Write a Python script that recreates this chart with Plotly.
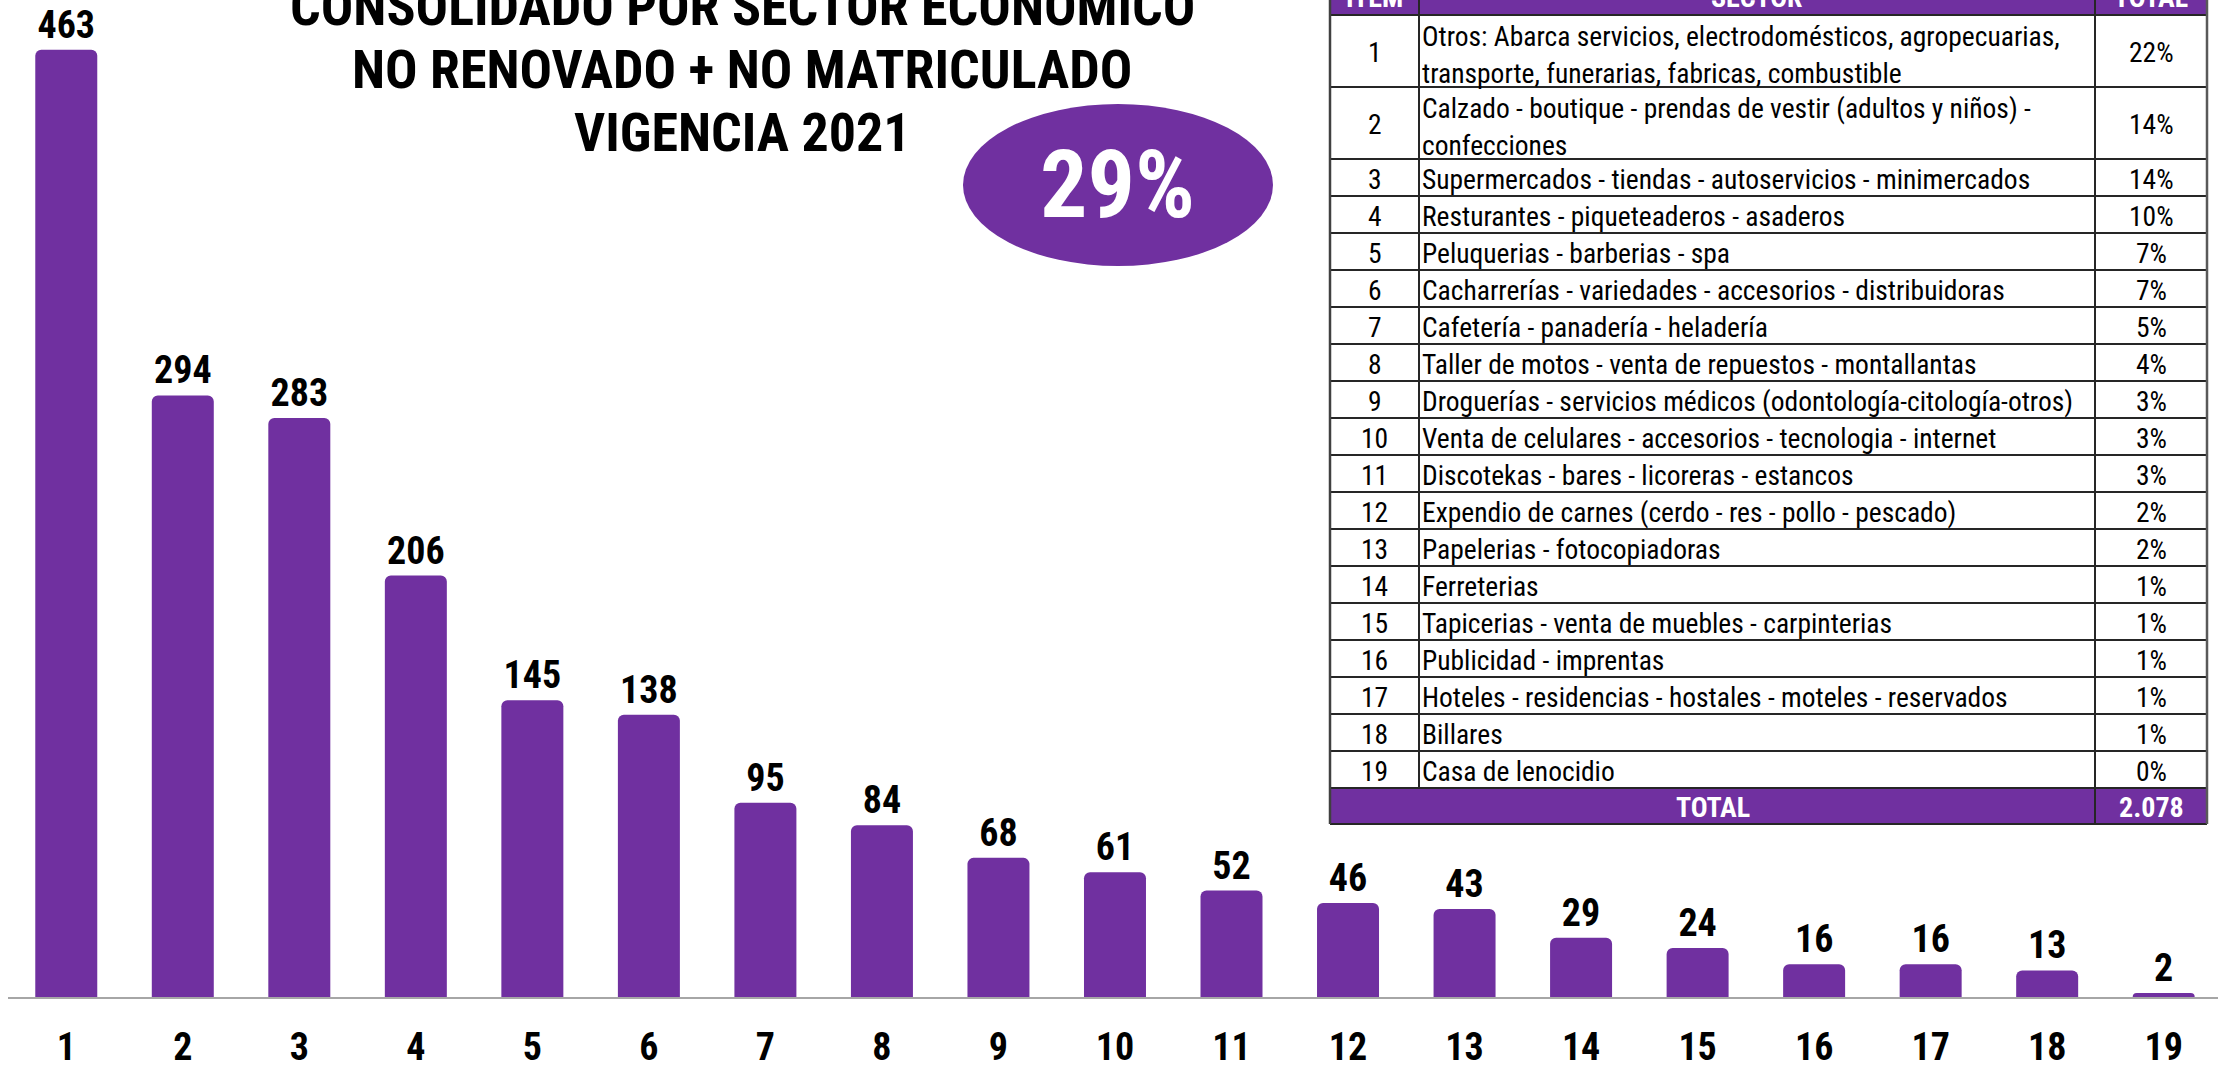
import plotly.graph_objects as go

# ---------------- data ----------------
items = [str(i) for i in range(1, 20)]
values = [463, 294, 283, 206, 145, 138, 95, 84, 68, 61, 52, 46, 43, 29, 24, 16, 16, 13, 2]
sectors = [
    "Otros: Abarca servicios, electrodomésticos, agropecuarias,<br>transporte, funerarias, fabricas, combustible",
    "Calzado - boutique - prendas de vestir (adultos y niños) -<br>confecciones",
    "Supermercados - tiendas - autoservicios - minimercados",
    "Resturantes - piqueteaderos - asaderos",
    "Peluquerias - barberias - spa",
    "Cacharrerías - variedades - accesorios - distribuidoras",
    "Cafetería - panadería - heladería",
    "Taller de motos - venta de repuestos - montallantas",
    "Droguerías - servicios médicos (odontología-citología-otros)",
    "Venta de celulares - accesorios - tecnologia - internet",
    "Discotekas - bares - licoreras - estancos",
    "Expendio de carnes (cerdo - res - pollo - pescado)",
    "Papelerias - fotocopiadoras",
    "Ferreterias",
    "Tapicerias - venta de muebles - carpinterias",
    "Publicidad - imprentas",
    "Hoteles - residencias - hostales - moteles - reservados",
    "Billares",
    "Casa de lenocidio",
]
shares = ["22%", "14%", "14%", "10%", "7%", "7%", "5%", "4%", "3%", "3%",
          "3%", "2%", "2%", "1%", "1%", "1%", "1%", "1%", "0%"]
table_headers = ["ITEM", "SECTOR", "TOTAL"]
total_label = "TOTAL"
total_value = "2.078"
title_lines = ["CONSOLIDADO POR SECTOR ECONOMICO", "NO RENOVADO + NO MATRICULADO", "VIGENCIA 2021"]
badge_text = "29%"

# ---------------- style ----------------
PURPLE = "#7030a0"
NARROW = "Liberation Sans Narrow, Arial Narrow, Roboto Condensed, Liberation Sans, Arial, sans-serif"
LINE = "#262626"

W, H = 2218, 1070
ML, MR, MT, MB = 8, 0, 0, 73
PW, PH = W - ML - MR, H - MT - MB


def px(x):
    return (x - ML) / PW


def py(y):
    return 1 - (y - MT) / PH


fig = go.Figure(
    go.Bar(
        x=items,
        y=values,
        marker=dict(color=PURPLE, line=dict(width=0)),
        text=[str(v) for v in values],
        textposition="outside",
        textfont=dict(family=NARROW, size=38, color="black", weight="bold"),
        constraintext="none",
        cliponaxis=False,
        hoverinfo="skip",
    )
)

fig.update_layout(
    template="none",
    width=W,
    height=H,
    margin=dict(l=ML, r=MR, t=MT, b=MB, pad=0, autoexpand=False),
    paper_bgcolor="white",
    plot_bgcolor="white",
    bargap=0.468,
    barcornerradius=6,
    showlegend=False,
    xaxis=dict(
        type="category",
        range=[-0.5, 18.466],
        automargin=False,
        showline=True,
        linecolor="#a6a6a6",
        linewidth=2,
        ticks="outside",
        ticklen=15,
        tickcolor="rgba(0,0,0,0)",
        tickfont=dict(family=NARROW, size=38, color="black", weight="bold"),
        showgrid=False,
        zeroline=False,
        fixedrange=True,
    ),
    yaxis=dict(range=[0, PH / 2.046], visible=False, automargin=False,
               showgrid=False, zeroline=False, fixedrange=True),
)

# ---------------- title ----------------
for i, line in enumerate(title_lines):
    fig.add_annotation(
        xref="paper", yref="paper", x=px(742), y=py(6 + 63 * i),
        text=line, showarrow=False, xanchor="center", yanchor="middle",
        font=dict(family=NARROW, size=54, color="black", weight="bold"),
    )

# ---------------- badge ----------------
fig.add_shape(type="circle", xref="paper", yref="paper",
              x0=px(963), x1=px(1273), y0=py(266), y1=py(104),
              fillcolor=PURPLE, line=dict(width=0), layer="above")
fig.add_annotation(xref="paper", yref="paper", x=px(1117), y=py(185), text=badge_text,
                   showarrow=False, xanchor="center", yanchor="middle",
                   font=dict(family=NARROW, size=94, color="white", weight="bold"))

# ---------------- table ----------------
X0, X1, X2, X3 = 1330, 1419, 2095, 2207
HEAD_TOP, HEAD_BOT = -40, 15
bounds = [HEAD_BOT]
for s in sectors:
    n = len(s.split("<br>"))
    bounds.append(bounds[-1] + (72 if n > 1 else 37))
TOT_TOP = bounds[-1]
TOT_BOT = TOT_TOP + 36


def rect(x0, y0, x1, y1, fill):
    fig.add_shape(type="rect", xref="paper", yref="paper",
                  x0=px(x0), x1=px(x1), y0=py(y1), y1=py(y0),
                  fillcolor=fill, line=dict(width=0), layer="above")


def seg(x0, y0, x1, y1, w=2, c=LINE):
    fig.add_shape(type="line", xref="paper", yref="paper",
                  x0=px(x0), x1=px(x1), y0=py(y0), y1=py(y1),
                  line=dict(color=c, width=w), layer="above")


rect(X0, HEAD_BOT, X3, TOT_TOP, "white")
rect(X0, HEAD_TOP, X3, HEAD_BOT, PURPLE)
rect(X0, TOT_TOP, X3, TOT_BOT, PURPLE)
for b in bounds + [TOT_BOT]:
    seg(X0, b, X3, b)
seg(X1, HEAD_TOP, X1, TOT_TOP)
seg(X2, HEAD_TOP, X2, TOT_BOT)
seg(X0, HEAD_TOP, X0, TOT_BOT, w=2.5, c="#404040")
seg(X3, HEAD_TOP, X3, TOT_BOT, w=2.5, c="#595959")

BODY = dict(family=NARROW, size=27.5, color="black")
HEAD = dict(family=NARROW, size=28, color="white", weight="bold")

for cx, t in zip([(X0 + X1) / 2, (X1 + X2) / 2, (X2 + X3) / 2], table_headers):
    fig.add_annotation(xref="paper", yref="paper", x=px(cx), y=py(-3), text=t,
                       showarrow=False, xanchor="center", yanchor="middle", font=HEAD)

for k in range(len(items)):
    top, bot = bounds[k], bounds[k + 1]
    cy = (top + bot) / 2
    fig.add_annotation(xref="paper", yref="paper", x=px((X0 + X1) / 2), y=py(cy + 2),
                       text=items[k], showarrow=False, xanchor="center", yanchor="middle", font=BODY)
    fig.add_annotation(xref="paper", yref="paper", x=px((X2 + X3) / 2), y=py(cy + 2),
                       text=shares[k], showarrow=False, xanchor="center", yanchor="middle", font=BODY)
    parts = sectors[k].split("<br>")
    n = len(parts)
    for i, p in enumerate(parts):
        ly = cy + 2 + (2 if n > 1 else 0) + (i - (n - 1) / 2) * 36.5
        fig.add_annotation(xref="paper", yref="paper", x=px(X1 + 1), y=py(ly),
                           text=p, showarrow=False, xanchor="left", yanchor="middle", font=BODY)

fig.add_annotation(xref="paper", yref="paper", x=px((X0 + X2) / 2), y=py((TOT_TOP + TOT_BOT) / 2 + 1),
                   text=total_label, showarrow=False, xanchor="center", yanchor="middle", font=HEAD)
fig.add_annotation(xref="paper", yref="paper", x=px((X2 + X3) / 2), y=py((TOT_TOP + TOT_BOT) / 2 + 1),
                   text=total_value, showarrow=False, xanchor="center", yanchor="middle", font=HEAD)

fig.write_html("out.html", config={"displayModeBar": False},
               post_script="document.body.style.margin='0';")
